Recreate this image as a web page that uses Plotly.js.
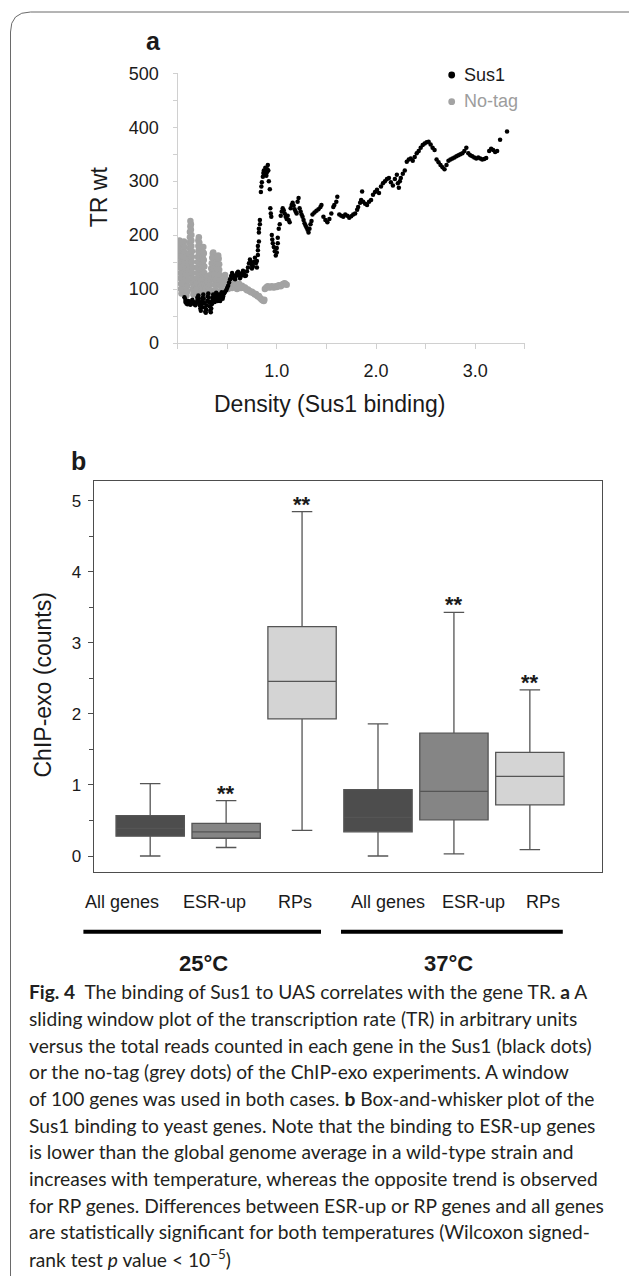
<!DOCTYPE html>
<html><head><meta charset="utf-8">
<script src="https://cdn.plot.ly/plotly-3.0.1.min.js"></script>
<style>html,body{margin:0;padding:0;background:#fff;}#chart{width:629px;height:1276px;}</style>
</head><body><div id="chart"></div>
<script>
// ---------- Panel a : sliding-window data ----------
const seriesNames = ['Sus1', 'No-tag'];
const sus1X = [
0.07,0.08,0.08,0.09,0.10,0.10,0.11,0.12,0.13,0.14,0.14,0.15,0.16,0.17,0.18,0.19,0.20,0.20,
0.21,0.215,0.22,0.225,0.23,0.235,0.24,0.245,0.25,0.255,0.26,0.265,0.27,0.275,0.28,0.285,0.29,0.295,0.30,0.305,0.31,0.315,0.32,0.325,0.33,0.335,0.34,0.345,
0.35,0.355,0.36,0.365,0.37,0.375,0.38,0.385,0.39,0.395,0.40,0.405,0.41,0.415,0.42,0.425,0.43,0.435,0.44,0.445,0.45,0.455,0.46,0.47,0.48,0.49,0.50,0.51,
0.52,0.53,0.54,0.55,0.56,0.57,0.58,0.59,0.60,0.61,0.62,0.63,0.64,0.65,0.66,0.67,0.68,
0.69,0.70,0.71,0.72,0.73,0.74,0.75,0.75,0.76,0.77,0.78,0.79,0.80,0.80,0.81,
0.81,0.81,0.82,0.82,0.82,0.83,0.83,
0.84,0.845,0.85,0.86,0.865,0.87,0.875,0.88,0.885,0.89,0.895,0.90,0.905,0.91,0.915,0.92,0.93,
0.935,0.94,0.945,0.95,0.955,0.96,0.97,0.98,0.99,1.00,1.00,1.01,1.01,
1.02,1.03,1.04,1.05,1.06,1.07,1.08,1.09,1.10,1.11,1.12,1.13,1.14,1.15,1.16,1.17,1.18,1.19,1.20,1.21,
1.22,1.23,1.24,1.25,1.26,1.27,1.28,1.29,1.30,1.31,1.32,1.33,1.34,1.35,1.36,1.38,1.40,1.42,1.44,1.45,
1.47,1.49,1.51,1.53,1.55,1.57,1.58,1.60,1.61,1.63,1.65,1.67,1.69,1.71,1.73,1.75,1.77,1.79,
1.81,1.82,1.84,1.85,1.86,1.87,1.89,1.91,1.93,1.95,1.97,1.99,2.01,2.03,2.05,2.07,2.09,2.11,2.13,2.15,2.17,2.19,2.21,
2.22,2.23,2.24,2.25,2.27,2.29,2.31,2.33,2.35,2.37,2.39,2.41,2.43,2.45,2.47,2.49,2.51,2.53,2.55,2.57,2.59,
2.61,2.63,2.65,2.67,2.69,2.71,2.73,2.75,2.77,2.79,2.81,2.83,2.85,2.87,2.89,2.91,2.93,2.95,2.97,2.99,3.01,3.03,3.05,3.07,3.09,3.11,
3.14,3.16,3.18,3.20,3.22,3.25,3.32];
const sus1Y = [
85,80,76,73,72,75,78,74,71,73,77,80,76,72,70,74,79,84,
88,82,76,70,64,60,66,72,78,84,90,82,74,66,58,56,62,70,78,86,92,84,76,68,60,57,64,72,
78,84,90,86,80,76,82,88,93,87,81,78,84,90,86,80,78,84,90,94,88,82,86,92,95,98,102,106,
112,118,124,130,126,120,118,124,130,132,126,120,124,130,134,128,124,
125,133,140,148,155,150,144,138,142,150,158,148,140,152,163,
172,180,188,205,212,220,228,
280,290,298,308,315,320,312,318,325,318,310,316,322,330,320,300,285,
250,240,234,200,192,185,178,170,162,168,176,185,195,
212,220,236,244,250,246,240,234,230,236,228,224,250,256,260,255,248,244,240,262,
269,250,244,238,234,228,222,218,214,210,205,212,220,226,238,242,245,248,252,256,
234,228,224,230,240,252,256,262,271,238,236,234,238,236,232,235,238,240,
247,252,260,265,281,262,258,256,262,265,275,280,284,278,290,296,300,304,306,298,292,304,312,
296,288,300,306,314,320,336,340,342,338,345,352,356,362,367,370,372,373,368,362,358,
340,335,330,326,322,330,338,340,342,344,346,348,350,352,356,362,352,348,346,344,342,344,342,340,341,343,
356,360,358,354,356,377,392];
const notagX = [
0.02,0.02,0.02,0.025,0.025,0.03,0.03,0.03,0.035,0.035,0.04,
0.045,0.045,0.05,0.05,0.05,0.055,0.055,0.06,0.06,0.065,
0.07,0.07,0.075,0.075,0.08,0.08,0.085,0.085,0.09,0.09,
0.10,0.10,0.105,0.105,0.11,0.11,0.115,0.115,0.12,0.12,0.125,0.125,0.13,0.13,
0.135,0.135,0.14,0.14,0.14,0.145,0.145,0.145,0.15,0.15,0.15,0.155,0.155,0.16,
0.165,0.17,0.175,0.18,0.185,0.19,
0.195,0.195,0.2,0.2,0.2,0.205,0.205,0.21,0.21,0.21,0.215,
0.22,0.22,0.225,0.225,0.23,0.23,0.23,0.235,0.235,0.24,0.24,
0.245,0.245,0.25,0.25,0.25,0.255,0.255,0.26,0.26,
0.265,0.265,0.27,0.27,0.27,0.275,0.275,
0.28,0.285,0.29,0.295,0.30,0.305,0.31,0.315,0.32,0.325,0.33,0.335,
0.34,0.34,0.345,0.35,0.355,
0.36,0.36,0.365,0.365,0.37,0.37,0.375,0.375,0.38,
0.385,0.39,0.39,0.395,0.40,0.40,0.405,0.41,
0.415,0.42,0.42,0.425,0.43,0.43,0.435,0.44,
0.45,0.46,0.47,0.48,0.49,0.50,0.51,0.52,0.53,0.54,0.55,0.56,0.57,0.58,0.59,0.60,0.61,0.62,0.63,0.64,
0.65,0.66,0.67,0.68,0.69,0.70,0.71,0.72,0.73,0.74,0.75,0.76,0.77,0.78,0.79,0.80,0.81,0.82,0.83,0.84,0.85,0.86,0.87,0.875,
0.88,0.89,0.90,0.91,0.92,0.93,0.94,0.95,0.96,0.97,0.98,0.99,1.00,1.01,1.02,1.03,1.04,1.05,1.06,1.07,1.08,1.09,1.10];
const notagY = [
190,180,170,160,150,140,130,120,110,100,92,
100,110,120,130,140,150,160,170,180,188,
178,168,158,148,138,128,118,108,98,88,
96,106,116,126,136,146,156,166,176,186,196,206,216,226,
220,210,200,190,180,170,160,150,140,130,120,110,100,90,
96,106,116,110,98,90,
100,110,120,130,140,150,160,170,180,190,196,
186,176,166,156,146,136,126,116,106,96,88,
98,108,118,128,138,148,158,168,178,
166,154,142,130,118,106,96,
90,100,110,120,124,114,104,94,88,98,108,118,
128,138,148,158,166,
168,158,148,138,128,118,108,98,90,
98,108,118,128,138,148,156,162,
156,146,136,126,116,106,96,90,
98,108,118,126,118,108,100,106,114,108,102,110,118,112,106,100,104,110,106,102,
106,104,102,103,100,98,99,97,96,94,95,93,92,90,91,88,86,87,84,82,80,79,78,80,
100,102,104,105,104,103,104,105,104,103,104,105,104,105,107,106,105,107,109,110,111,109,108];
const aXTickVals = [1, 2, 3];
const aXTickText = ['1.0', '2.0', '3.0'];

// ---------- Panel b : box-and-whisker summary ----------
const boxCategories = ['All genes', 'ESR-up', 'RPs', 'All genes', 'ESR-up', 'RPs'];
const temperatures = ['25°C', '37°C'];
const boxLower  = [0.00, 0.12, 0.36, 0.00, 0.03, 0.09];
const boxQ1     = [0.28, 0.25, 1.93, 0.34, 0.51, 0.72];
const boxMedian = [0.39, 0.34, 2.46, 0.545, 0.91, 1.12];
const boxQ3     = [0.57, 0.46, 3.23, 0.935, 1.73, 1.46];
const boxUpper  = [1.02, 0.78, 4.85, 1.86, 3.43, 2.34];
const significant = [false, true, true, false, true, true];

const captionLines = [
 '<b>Fig. 4</b>  The binding of Sus1 to UAS correlates with the gene TR. <b>a</b> A',
 'sliding window plot of the transcription rate (TR) in arbitrary units',
 'versus the total reads counted in each gene in the Sus1 (black dots)',
 'or the no-tag (grey dots) of the ChIP-exo experiments. A window',
 'of 100 genes was used in both cases. <b>b</b> Box-and-whisker plot of the',
 'Sus1 binding to yeast genes. Note that the binding to ESR-up genes',
 'is lower than the global genome average in a wild-type strain and',
 'increases with temperature, whereas the opposite trend is observed',
 'for RP genes. Differences between ESR-up or RP genes and all genes',
 'are statistically significant for both temperatures (Wilcoxon signed-',
 'rank test <i>p</i> value < 10<sup>−5</sup>)'
];

// ---------- layout helpers ----------
const W = 629, H = 1276;
const fx = v => v / W;
const fy = v => 1 - v / H;
const FONT = 'Liberation Sans, Arial, sans-serif';
const CAPF = 'Lato, sans-serif';
const INK = '#1a1a1a';
const GREY = '#a3a3a3';
const boxFills = ['#4d4d4d', '#858585', '#d4d4d4', '#4d4d4d', '#858585', '#d4d4d4'];

const traces = [
  {type:'scatter', mode:'markers', name:seriesNames[1], x:notagX, y:notagY, xaxis:'x', yaxis:'y',
   marker:{color:GREY, size:6.5}, showlegend:false, hoverinfo:'skip'},
  {type:'scatter', mode:'markers', name:seriesNames[0], x:sus1X, y:sus1Y, xaxis:'x', yaxis:'y',
   marker:{color:'#000000', size:4.5}, showlegend:false, hoverinfo:'skip'}
];
boxCategories.forEach((c, i) => {
  traces.push({type:'box', name:c, x:[i], q1:[boxQ1[i]], median:[boxMedian[i]], q3:[boxQ3[i]],
    lowerfence:[boxLower[i]], upperfence:[boxUpper[i]], xaxis:'x2', yaxis:'y2',
    fillcolor:boxFills[i], line:{color:'#555555', width:1.3}, width:0.9, whiskerwidth:0.3,
    boxpoints:false, showlegend:false, hoverinfo:'skip'});
});

const ann = [];
function txt(text, x, y, size, opts) {
  ann.push(Object.assign({xref:'paper', yref:'paper', x:fx(x), y:fy(y), text:text, showarrow:false,
    xanchor:'center', yanchor:'middle', font:{family:FONT, size:size, color:INK}}, opts || {}));
}
txt('<b>a</b>', 153, 41, 25);
txt('<b>b</b>', 79, 460.5, 25);
txt('TR wt', 99.2, 197, 23, {textangle:-90});
txt('Density (Sus1 binding)', 329, 403.5, 23);
txt('ChIP-exo (counts)', 42.5, 685, 23, {textangle:-90});
txt(seriesNames[0], 461.7, 74.5, 18, {xanchor:'left'});
txt(seriesNames[1], 461.7, 101, 18, {xanchor:'left', font:{family:FONT, size:18, color:'#9d9d9d'}});

const catLabelX = [122.3, 214.6, 295.4, 387.9, 473.3, 542.5];
boxCategories.forEach((c, i) => txt(c, catLabelX[i], 901.5, 18));
const tempX = [203.6, 449];
temperatures.forEach((t, i) => txt('<b>' + t + '</b>', tempX[i], 964, 22));

boxCategories.forEach((c, i) => {
  if (significant[i]) ann.push({xref:'x2', yref:'y2', x:i, y:boxUpper[i], yanchor:'bottom', yshift:-7,
    text:'<b>**</b>', showarrow:false, font:{family:FONT, size:22, color:INK}});
});

captionLines.forEach((line, k) => {
  const base = 999.3 + 26.67 * k;
  txt(line, 26.9, base - 7.4, 19.2, {xanchor:'left', font:{family:CAPF, size:19.2, color:'#231f20'}});
});

const L = 10.5, T = 12, R = 20;
const shapes = [
  {type:'path', xref:'paper', yref:'paper', line:{color:'#6a6a6a', width:1},
   path:`M ${fx(L)},${fy(1320)} L ${fx(L)},${fy(T+R)} Q ${fx(L)},${fy(T)} ${fx(L+R)},${fy(T)} L ${fx(680)},${fy(T)}`},
  {type:'circle', xref:'paper', yref:'paper', xsizemode:'pixel', ysizemode:'pixel',
   xanchor:fx(451.7), yanchor:fy(75), x0:-3.4, x1:3.4, y0:-3.4, y1:3.4, fillcolor:'#000', line:{width:0}},
  {type:'circle', xref:'paper', yref:'paper', xsizemode:'pixel', ysizemode:'pixel',
   xanchor:fx(451.7), yanchor:fy(101.7), x0:-3.4, x1:3.4, y0:-3.4, y1:3.4, fillcolor:GREY, line:{width:0}},
  {type:'line', xref:'paper', yref:'paper', x0:fx(83.4), x1:fx(321), y0:fy(931.7), y1:fy(931.7), line:{color:'#000', width:4}},
  {type:'line', xref:'paper', yref:'paper', x0:fx(341), x1:fx(562.8), y0:fy(931.7), y1:fy(931.7), line:{color:'#000', width:4}}
];

const AX = '#d0d0d0';
const layout = {
  width:W, height:H, margin:{l:0, r:0, t:0, b:0}, paper_bgcolor:'#fff', plot_bgcolor:'rgba(0,0,0,0)',
  font:{family:FONT, color:INK}, showlegend:false,
  xaxis:{domain:[fx(177.5), fx(524.9)], range:[0, 3.5], anchor:'y', showline:true, linecolor:AX, linewidth:1,
    ticks:'outside', ticklen:5, tickcolor:AX, tickvals:aXTickVals, ticktext:aXTickText,
    minor:{tick0:0, dtick:0.5, ticks:'outside', ticklen:5, tickcolor:AX, showgrid:false},
    showgrid:false, zeroline:false, tickfont:{size:18, color:INK}, ticklabelstandoff:6},
  yaxis:{domain:[fy(343), fy(73.3)], range:[0, 500], anchor:'x', showline:true, linecolor:AX, linewidth:1,
    ticks:'outside', ticklen:4, tickcolor:AX, tick0:0, dtick:100,
    minor:{tick0:0, dtick:50, ticks:'outside', ticklen:4, tickcolor:AX, showgrid:false},
    showgrid:false, zeroline:false, tickfont:{size:18, color:INK}, ticklabelstandoff:10},
  xaxis2:{domain:[fx(94), fx(602)], range:[-0.74, 5.95], anchor:'y2', showline:true, mirror:true,
    linecolor:'#4d4d4d', linewidth:1.3, ticks:'', showticklabels:false, showgrid:false, zeroline:false},
  yaxis2:{domain:[fy(872), fy(481)], range:[-0.225, 5.28], anchor:'x2', showline:true, mirror:true,
    linecolor:'#4d4d4d', linewidth:1.3, ticks:'outside', ticklen:5, tickcolor:'#4d4d4d', tick0:0, dtick:1,
    minor:{tick0:0, dtick:0.5, ticks:'outside', ticklen:4, tickcolor:'#4d4d4d', showgrid:false},
    showgrid:false, zeroline:false, tickfont:{size:17, color:INK}, ticklabelstandoff:3},
  annotations:ann, shapes:shapes
};
Plotly.newPlot('chart', traces, layout, {displayModeBar:false, staticPlot:true});
</script></body></html>
